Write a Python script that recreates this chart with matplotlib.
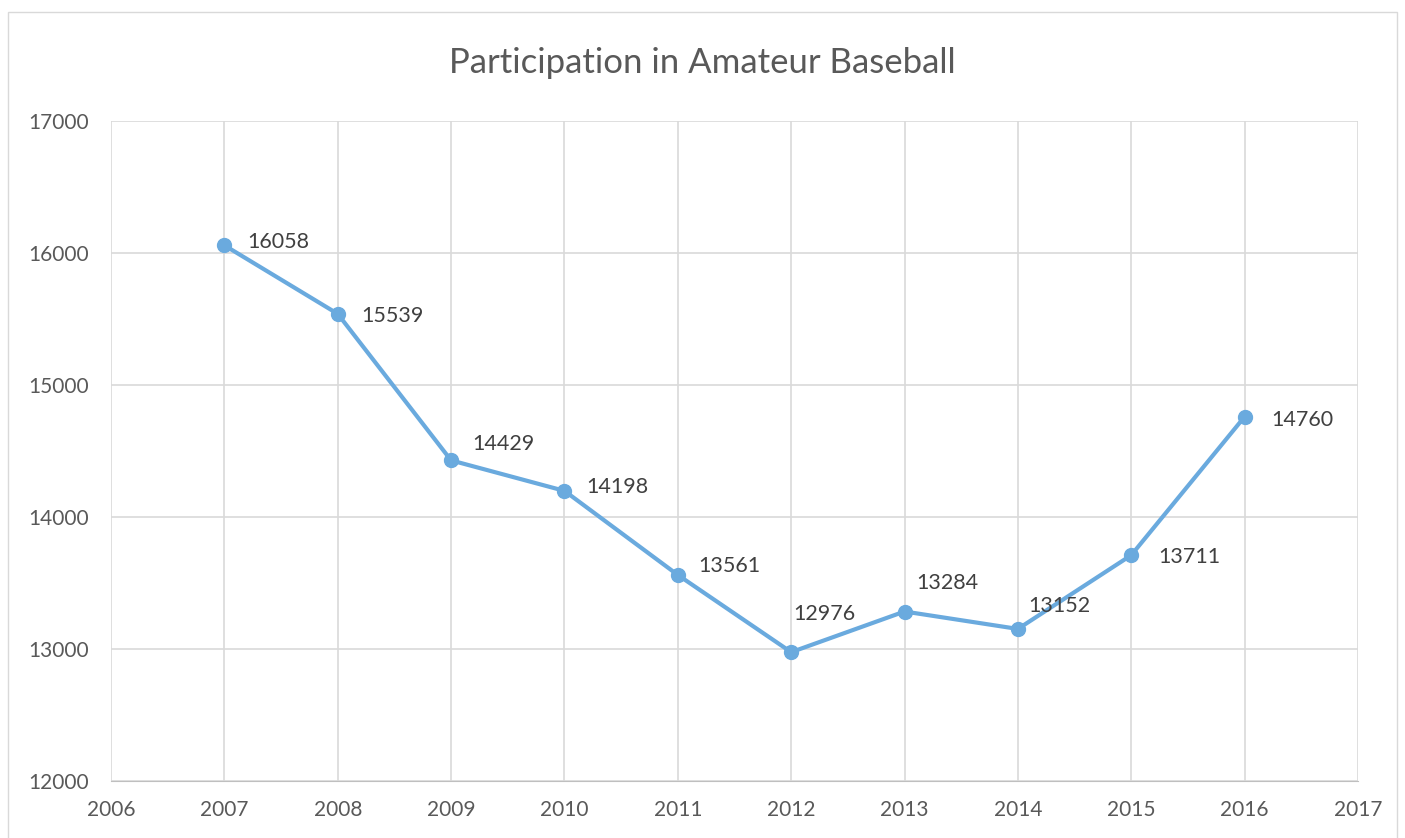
import matplotlib.pyplot as plt
from matplotlib.patches import Rectangle

years = [2007, 2008, 2009, 2010, 2011, 2012, 2013, 2014, 2015, 2016]
participants = [16058, 15539, 14429, 14198, 13561, 12976, 13284, 13152, 13711, 14760]

# label offsets in pixels (layout only)
label_offsets = [(23, 3), (24, -2), (21, 16), (22, 4), (20, 9), (2, 38), (12, 29), (10, 23), (27, -2), (27, -3)]

plt.rcParams['font.family'] = ['Lato', 'DejaVu Sans']

fig = plt.figure(figsize=(14.05, 8.38), dpi=100)
fig.patches.append(Rectangle((8 / 1405, -0.05), 1389 / 1405, 1.05 - 12 / 838,
                             transform=fig.transFigure, fill=False,
                             edgecolor='#d9d9d9', linewidth=1))
ax = fig.add_axes([111 / 1405, 1 - 781 / 838, 1247 / 1405, 660 / 838])

ax.plot(years, participants, color='#6aaade', linewidth=3, marker='o',
        markersize=10, zorder=3)
for x, y, (dx, dy) in zip(years, participants, label_offsets):
    ax.annotate(str(y), (x, y), xytext=(dx, dy), textcoords='offset pixels',
                ha='left', va='center', fontsize=15.5, color='#404040')

ax.set_xlim(2006, 2017)
ax.set_ylim(12000, 17000)
ax.set_xticks(range(2006, 2018))
ax.set_yticks(range(12000, 17001, 1000))
ax.grid(True, color='#d9d9d9', linewidth=1.2)
ax.set_axisbelow(True)
for s in ax.spines.values():
    s.set_visible(False)
ax.spines['bottom'].set_visible(True)
ax.spines['bottom'].set_color('#bfbfbf')
ax.tick_params(length=0, labelsize=15, colors='#595959')
ax.tick_params(axis='x', pad=14)
ax.tick_params(axis='y', pad=16)

fig.text(0.5, 1 - 63 / 838, 'Participation in Amateur Baseball', ha='center',
         va='center', fontsize=25, color='#595959')

fig.savefig('out.png', dpi=100)
